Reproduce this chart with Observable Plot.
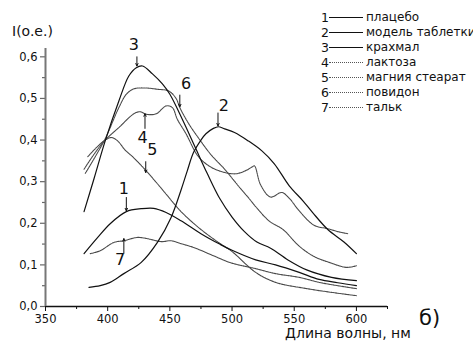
<!DOCTYPE html>
<html>
<head>
<meta charset="utf-8">
<script src="https://cdn.jsdelivr.net/npm/d3@7"></script>
<script src="https://cdn.jsdelivr.net/npm/@observablehq/plot@0.6"></script>
<style>
  html, body { margin: 0; padding: 0; background: #fff; overflow: hidden; }
  body { width: 473px; height: 344px; position: relative; font-family: "DejaVu Sans", sans-serif; color: #111; }
  #chart { position: absolute; left: 0; top: 0; }
  .ov { position: absolute; white-space: nowrap; line-height: 1; }
  #legend { position: absolute; left: 321px; top: 10px; font-size: 12px; line-height: 15px; white-space: nowrap; }
  #legend .row { display: flex; align-items: center; height: 15px; }
  #legend .num { width: 8px; text-align: right; font-size: 12.5px; }
  #legend .smp { display: inline-block; width: 34px; height: 0; margin: 0 3px 0 0; }
</style>
</head>
<body>
<div id="chart"></div>
<div class="ov" style="left:12px; top:24px; font-size:14px;">I(o.e.)</div>
<div class="ov" style="left:285px; top:326px; font-size:14px;">Длина волны, нм</div>
<div class="ov" style="left:419px; top:308px; font-size:21px;">б)</div>
<div id="legend"></div>
<script>
// ---- data (wavelength nm, intensity o.e.) ----
const names = ["плацебо", "модель таблетки", "крахмал", "лактоза", "магния стеарат", "повидон", "тальк"];
const solidSeries = [1, 2, 3];

const placebo = [[381,0.127],[392,0.166],[402,0.199],[415,0.228],[427,0.235],[437,0.236],[447,0.226],[459,0.206],[475,0.175],[490,0.15],[500,0.135],[519,0.112],[535,0.1],[554,0.082],[570,0.065],[585,0.057],[600,0.05]];
const modelTablet = [[385,0.046],[394,0.05],[402,0.058],[413,0.079],[427,0.106],[440,0.154],[451,0.214],[459,0.28],[464,0.326],[469,0.37],[475,0.40],[479,0.415],[485,0.428],[489,0.432],[494,0.427],[502,0.418],[513,0.398],[524,0.374],[534,0.343],[546,0.29],[557,0.254],[565,0.225],[577,0.185],[590,0.155],[600,0.127]];
const starch = [[381,0.228],[389,0.307],[398,0.398],[409,0.494],[417,0.554],[423,0.574],[428,0.578],[436,0.559],[444,0.535],[450,0.51],[460,0.45],[470,0.385],[480,0.32],[490,0.26],[500,0.215],[510,0.18],[520,0.155],[531,0.14],[545,0.112],[560,0.088],[580,0.07],[600,0.062]];
const lactose = [[381,0.33],[390,0.37],[398,0.40],[409,0.43],[421,0.463],[426,0.468],[431,0.462],[439,0.463],[447,0.482],[452,0.478],[456,0.45],[463,0.415],[473,0.36],[483,0.335],[494,0.322],[503,0.319],[510,0.325],[516,0.335],[518,0.338],[523,0.292],[531,0.263],[540,0.274],[546,0.26],[554,0.23],[566,0.195],[577,0.187],[585,0.18],[593,0.175]];
const mgStearate = [[384,0.36],[392,0.385],[398,0.40],[403,0.406],[408,0.398],[414,0.376],[420,0.36],[425,0.345],[431,0.326],[440,0.295],[447,0.27],[459,0.228],[475,0.185],[490,0.152],[500,0.132],[519,0.082],[535,0.058],[560,0.043],[580,0.034],[600,0.026]];
const povidone = [[382,0.32],[390,0.36],[398,0.403],[409,0.478],[415,0.51],[421,0.523],[431,0.525],[440,0.522],[449,0.518],[455,0.50],[458,0.478],[465,0.44],[473,0.405],[483,0.365],[494,0.33],[505,0.29],[513,0.262],[519,0.24],[530,0.205],[541,0.185],[554,0.145],[566,0.12],[578,0.106],[592,0.094],[600,0.098]];
const talc = [[386,0.127],[394,0.134],[405,0.154],[413,0.158],[424,0.166],[432,0.163],[443,0.156],[451,0.158],[459,0.151],[469,0.142],[485,0.122],[499,0.105],[519,0.091],[535,0.079],[554,0.07],[570,0.058],[585,0.05],[600,0.043]];

const seriesList = [placebo, modelTablet, starch, lactose, mgStearate, povidone, talc];

// curve labels: number, text position, arrow start/end (data units)
const labelNums = ["3", "6", "2", "4", "5", "1", "7"];
const labelX    = [421, 463, 493.5, 428, 436, 413, 410];
const labelY    = [0.628, 0.535, 0.482, 0.405, 0.376, 0.282, 0.112];
const arrowX    = [423.5, 458, 488.7, 430, 430.6, 415, 413];
const arrowY1   = [0.600, 0.508, 0.465, 0.428, 0.348, 0.262, 0.128];
const arrowY2   = [0.578, 0.480, 0.434, 0.463, 0.322, 0.230, 0.163];

const xTicks = [350, 400, 450, 500, 550, 600];
const xMinor = [375, 425, 475, 525, 575, 625];
const yTicks = [0, 0.1, 0.2, 0.3, 0.4, 0.5, 0.6];
const yMinor = [0.05, 0.15, 0.25, 0.35, 0.45, 0.55];

// ---- build tables ----
const rows = [];
seriesList.forEach((s, i) => s.forEach(([nm, v]) => rows.push({id: i + 1, nm, v, solid: solidSeries.includes(i + 1)})));
const ann = labelNums.map((t, i) => ({t, tx: labelX[i], ty: labelY[i], ax: arrowX[i], ay1: arrowY1[i], ay2: arrowY2[i]}));

const fmt = d => d3.format(".1f")(d).replace(".", ",");

const chart = Plot.plot({
  width: 473, height: 344,
  marginLeft: 45, marginRight: 86, marginTop: 48, marginBottom: 38,
  style: {fontFamily: "DejaVu Sans, sans-serif", background: "transparent", color: "#111"},
  x: {domain: [350, 625]},
  y: {domain: [0, 0.62]},
  marks: [
    Plot.axisX({ticks: xTicks, tickSize: 5, tickPadding: 3, tickFormat: d => String(d), label: null, fontSize: 11.5, strokeWidth: 1}),
    Plot.axisX({ticks: xMinor, tickSize: 3, text: null, label: null, strokeWidth: 1}),
    Plot.axisY({ticks: yTicks, tickSize: 5, tickPadding: 3, tickFormat: fmt, label: null, fontSize: 11.5, strokeWidth: 1.2, stroke: "#666"}),
    Plot.axisY({ticks: yMinor, tickSize: 3, text: null, label: null, strokeWidth: 1.2, stroke: "#666"}),
    Plot.ruleY([0], {x1: 350, x2: 625, stroke: "#111", strokeWidth: 1.5}),
    Plot.ruleX([350], {y1: 0, y2: 0.62, stroke: "#777", strokeWidth: 2}),
    Plot.line(rows.filter(d => !d.solid), {x: "nm", y: "v", z: "id", stroke: "#4a4a4a", strokeWidth: 1.1, strokeDasharray: "1.6 0.7", curve: "catmull-rom"}),
    Plot.line(rows.filter(d => d.solid), {x: "nm", y: "v", z: "id", stroke: "#111", strokeWidth: 1.2, curve: "catmull-rom"}),
    Plot.arrow(ann, {x1: "ax", y1: "ay1", x2: "ax", y2: "ay2", stroke: "#111", strokeWidth: 1, headLength: 4, headAngle: 50}),
    Plot.text(ann, {x: "tx", y: "ty", text: "t", fontSize: 16, fill: "#111"})
  ]
});
document.getElementById("chart").appendChild(chart);

// ---- legend ----
const leg = document.getElementById("legend");
names.forEach((n, i) => {
  const solid = solidSeries.includes(i + 1);
  const row = document.createElement("div");
  row.className = "row";
  row.innerHTML = `<span class="num">${i + 1}</span><span class="smp" style="border-top:1px ${solid ? "solid #111" : "dotted #555"}"></span><span>${n}</span>`;
  leg.appendChild(row);
});
</script>
</body>
</html>
